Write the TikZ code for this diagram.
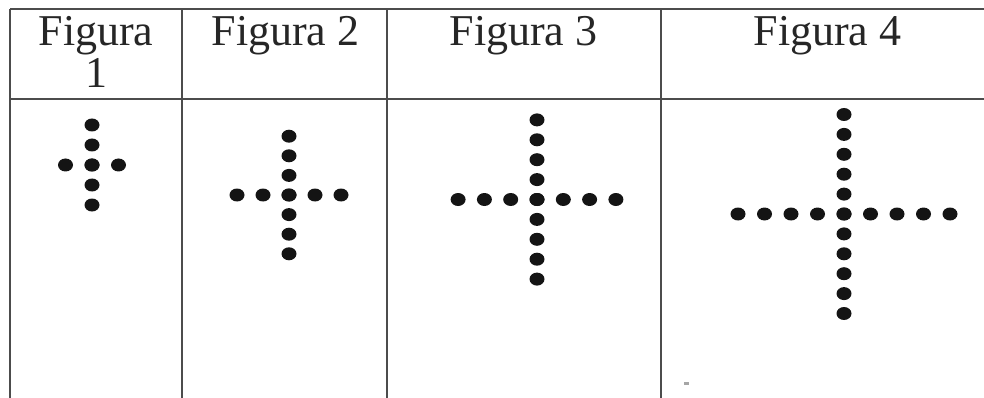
\documentclass[tikz,border=0pt]{standalone}
\usepackage{fontspec}
\setmainfont{Liberation Serif}
\begin{document}
\begin{tikzpicture}[x=1pt,y=-1pt,
  rule/.style={draw=black!70,line width=2pt},
  dotf/.style={fill=black!92},
  lbl/.style={font=\fontsize{44}{42}\selectfont,inner sep=0pt,anchor=base,text=black!85}]
\useasboundingbox (0,0) rectangle (984,398);
% table lines
\coordinate (tl) at (10,9.5);
\coordinate (tr) at (984,9.5);
\coordinate (hl) at (10,99);
\coordinate (hr) at (984,99);
\draw[rule] (tl) -- (tr);
\draw[rule] (hl) -- (hr);
\foreach \x/\n in {10/a,182/b,387/c,661/d}{
  \coordinate (v\n t) at (\x,9.5);
  \coordinate (v\n b) at (\x,398);
  \draw[rule] (v\n t) -- (v\n b);
}
% headers
\node[lbl] (h1a) at (96,46) {Figura};
\node[lbl] (h1b) at (96,88) {1};
\node[lbl] (h2) at (285.5,46) {Figura 2};
\node[lbl] (h3) at (523.5,46) {Figura 3};
\node[lbl] (h4) at (827.5,46) {Figura 4};
% dot crosses: cx/cy/nv/nh/vstep/hstep
\foreach \cx/\cy/\nv/\nh/\vs/\hs in {92/165/2/1/20/26.5, 289/195/3/2/19.6/26, 537/199.5/4/3/19.9/26.3, 844/214/5/4/19.9/26.5}{
  \foreach \k in {-\nv,...,\nv}{
    \fill[dotf] (\cx,\cy+\vs*\k) ellipse (7.5 and 6.5);
  }
  \foreach \k in {-\nh,...,\nh}{
    \fill[dotf] (\cx+\hs*\k,\cy) ellipse (7.5 and 6.5);
  }
}
% small speck
\fill[black!35] (684,382) rectangle (689,384.5);
\end{tikzpicture}
\end{document}
